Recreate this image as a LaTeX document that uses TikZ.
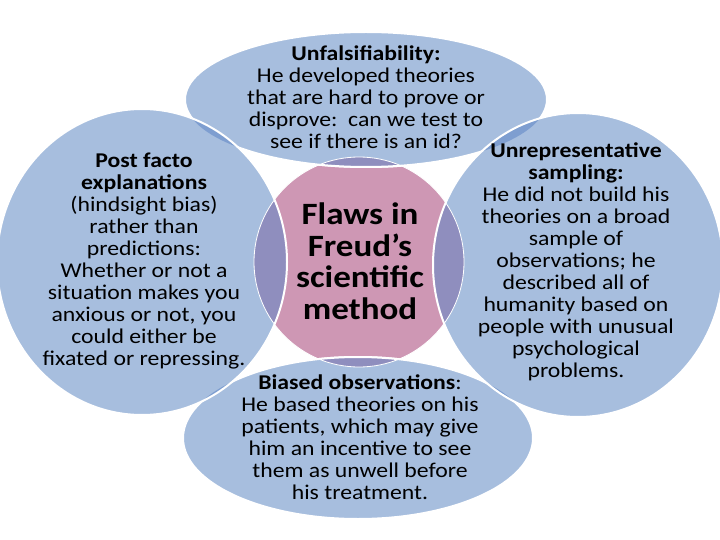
\documentclass[tikz,border=0pt]{standalone}
\usepackage{fontspec}
\setmainfont{Carlito}[FakeStretch=1.13]
\definecolor{sblue}{RGB}{167,190,222}
\definecolor{spink}{RGB}{206,151,180}
\definecolor{spurp}{RGB}{143,142,190}
\definecolor{slens}{RGB}{126,158,208}
\def\shDisc{(359,262) circle [radius=105pt]}
\def\shTop{(366,99.5) ellipse [x radius=181pt, y radius=67.5pt]}
\def\shBot{(358,438) ellipse [x radius=175pt, y radius=81pt]}
\def\shLeft{(142,262) ellipse [x radius=145pt, y radius=153pt]}
\def\shRight{(578,265) ellipse [x radius=145pt, y radius=152pt]}
\tikzset{
  body/.style={align=center, font=\fontsize{21}{22}\selectfont, text=black, inner sep=0pt},
  core/.style={align=center, font=\fontsize{31}{31.5}\selectfont\bfseries, text=black, inner sep=0pt},
  outline/.style={draw=white, line width=2pt}
}
\begin{document}
\begin{tikzpicture}[x=1pt,y=-1pt]
\useasboundingbox (0,0) rectangle (720,540);
\fill[white] (0,0) rectangle (720,540);
% centre disc
\fill[spink] \shDisc;
% top and bottom
\fill[sblue] \shTop;
\fill[sblue] \shBot;
\draw[outline] \shTop;
\draw[outline] \shBot;
% sides
\fill[sblue] \shLeft;
\fill[sblue] \shRight;
% lens overlaps
\begin{scope}
  \clip \shLeft;
  \fill[slens] \shTop;
  \fill[slens] \shBot;
\end{scope}
\begin{scope}
  \clip \shRight;
  \fill[slens] \shTop;
  \fill[slens] \shBot;
\end{scope}
% overlaps with the disc
\begin{scope}
  \clip \shDisc;
  \fill[spurp] \shTop;
  \fill[spurp] \shBot;
  \fill[spurp] \shLeft;
  \fill[spurp] \shRight;
  \draw[outline] \shTop;
  \draw[outline] \shBot;
\end{scope}
\draw[draw=white, line width=0.8pt] \shDisc;
\draw[outline] \shLeft;
\draw[outline] \shRight;
% texts
\node[body] (top) at (366,97) {{\bfseries Unfalsifiability:}\\He developed theories\\that are hard to prove or\\disprove:\ \ can we test to\\see if there is an id?};
\node[body] (left) at (144,261) {{\bfseries Post facto}\\{\bfseries explanations}\\(hindsight bias)\\rather than\\predictions:\\Whether or not a\\situation makes you\\anxious or not, you\\could either be\\fixated or repressing.};
\node[body] (right) at (576,262) {{\bfseries Unrepresentative}\\{\bfseries sampling:}\\He did not build his\\theories on a broad\\sample of\\observations; he\\described all of\\humanity based on\\people with unusual\\psychological\\problems.};
\node[body] (bottom) at (360,437) {{\bfseries Biased observations}:\\He based theories on his\\patients, which may give\\him an incentive to see\\them as unwell before\\his treatment.};
\node[core] (centre) at (360,261) {Flaws in\\Freud’s\\scientific\\method};
\end{tikzpicture}
\end{document}
